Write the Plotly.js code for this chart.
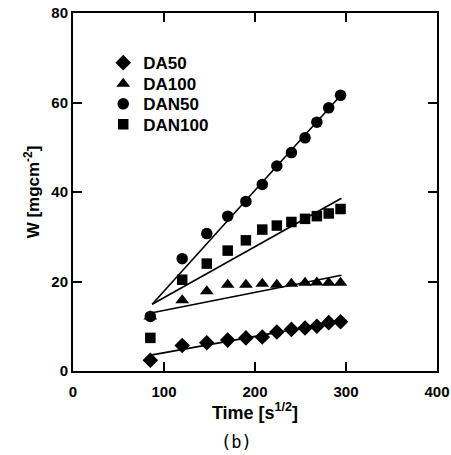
<!DOCTYPE html>
<html>
<head>
<meta charset="utf-8">
<script src="https://cdn.plot.ly/plotly-3.0.1.min.js"></script>
<style>html,body{margin:0;padding:0;background:#fff;}#chart{width:451px;height:455px;}</style>
</head>
<body>
<div id="chart"></div>
<script>
// Time [s^1/2]
const timeX = [85, 120, 147, 170, 190, 208, 224, 240, 255, 268, 281, 294];
// W [mg cm^-2]
const da50   = [2.4, 5.7, 6.3, 6.9, 7.4, 7.6, 8.7, 9.3, 9.6, 10.0, 10.8, 11.0];
const da100  = [12.2, 15.8, 17.8, 19.3, 19.3, 19.5, 19.3, 19.5, 19.7, 19.8, 19.7, 19.7];
const dan50  = [12.2, 25.1, 30.7, 34.6, 37.9, 41.7, 45.8, 48.8, 52.1, 55.6, 58.8, 61.6];
const dan100 = [7.4, 20.4, 24.0, 26.9, 29.2, 31.6, 32.5, 33.3, 34.0, 34.6, 35.2, 36.2];
// fitted line end points
const fitX = [87, 295];
const fitDA50   = [3.6, 11.2];
const fitDA100  = [13.0, 21.4];
const fitDAN50  = [14.9, 61.8];
const fitDAN100 = [14.9, 38.6];
const names = ["DA50", "DA100", "DAN50", "DAN100"];
const symbols = ["diamond", "triangle-up", "circle", "square"];
const sizes = [12, 12, 11.5, 10.5];

const series = [da50, da100, dan50, dan100];
const fits = [fitDA50, fitDA100, fitDAN50, fitDAN100];
const legendIds = ["legend", "legend2", "legend3", "legend4"];
const legendRowY = [0.86, 0.801, 0.745, 0.688];

const traces = [];
fits.forEach(f => traces.push({
  x: fitX, y: f, mode: "lines", type: "scatter", showlegend: false,
  line: {color: "#000", width: 1.6}, hoverinfo: "skip"
}));
series.forEach((s, i) => traces.push({
  x: timeX, y: s, mode: "markers", type: "scatter", name: names[i],
  legend: legendIds[i],
  marker: {symbol: symbols[i], size: sizes[i], color: "#000"}
}));

const FONT = "Liberation Sans, Arial, sans-serif";
const axisCommon = {
  showgrid: false, zeroline: false, showline: true, mirror: "ticks",
  linecolor: "#000", linewidth: 2, ticks: "inside", ticklen: 9, tickwidth: 2,
  tickcolor: "#000", tickfont: {family: FONT, size: 15, color: "#000", weight: 700}
};

const layout = {
  width: 451, height: 455,
  margin: {l: 73, r: 14, t: 13, b: 83.5},
  paper_bgcolor: "#fff", plot_bgcolor: "#fff",
  font: {family: FONT, color: "#000"},
  xaxis: Object.assign({}, axisCommon, {
    range: [0, 400], dtick: 100, tick0: 0, ticklabelstandoff: 6,
    title: {text: "<b>Time [s<sup>1/2</sup>]</b>", font: {size: 18, color: "#000"}, standoff: 6}
  }),
  yaxis: Object.assign({}, axisCommon, {
    range: [0, 80], dtick: 20, tick0: 0,
    title: {text: "<b>W [mgcm<sup>-2</sup>]</b>", font: {size: 17, color: "#000"}, standoff: 7}
  }),
  annotations: [{
    text: "(b)", xref: "paper", yref: "paper", x: 0.45, y: -0.197,
    xanchor: "center", yanchor: "middle", showarrow: false,
    font: {family: "DejaVu Sans Mono, monospace", size: 17, color: "#000"}
  }],
  showlegend: true
};
legendIds.forEach((id, i) => {
  layout[id] = {
    x: 0.083, y: legendRowY[i], xanchor: "left", yanchor: "middle",
    bgcolor: "rgba(0,0,0,0)", borderwidth: 0,
    font: {size: 17, color: "#000", family: FONT, weight: 700}
  };
});

Plotly.newPlot("chart", traces, layout, {displayModeBar: false, staticPlot: true});
</script>
</body>
</html>
